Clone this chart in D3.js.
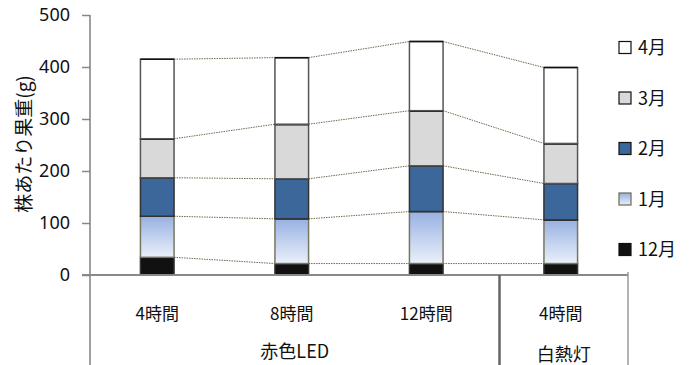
<!DOCTYPE html>
<html>
<head>
<meta charset="utf-8">
<script src="https://cdn.jsdelivr.net/npm/d3@7"></script>
<style>
  body { margin: 0; background: #fff; }
  text { font-family: "Noto Sans CJK JP", "Noto Sans", sans-serif; fill: #111; }
</style>
</head>
<body>
<svg id="chart" width="696" height="365"></svg>
<script>
// categories (lower level / upper level)
var hours = ["4時間", "8時間", "12時間", "4時間 "];
var groups = [
    { name: "赤色LED", from: 0, to: 2 },
    { name: "白熱灯", from: 3, to: 3 }
];
var months = ["12月", "1月", "2月", "3月", "4月"];
var yTicks = [0, 100, 200, 300, 400, 500];

// fruit weight per plant (g) by harvest month
var dec = [34, 22, 22, 22];
var jan = [79, 86, 100, 84];
var feb = [74, 77, 88, 70];
var mar = [75, 105, 106, 77];
var apr = [153, 128, 133, 146];

var fills = ["#111111", "url(#janGrad)", "#3c679a", "#d9d9d9", "#ffffff"];
var edges = ["#333333", "#77775f", "#333333", "#555555", "#555555"];

var rows = hours.map(function(h, i) {
    return { hour: h, "12月": dec[i], "1月": jan[i], "2月": feb[i], "3月": mar[i], "4月": apr[i] };
});

var svg = d3.select("#chart");
var margin = { left: 90, top: 15, right: 628, bottom: 275 };

var defs = svg.append("defs");
var grad = defs.append("linearGradient")
    .attr("id", "janGrad")
    .attr("x1", 0).attr("y1", 0).attr("x2", 0).attr("y2", 1);
grad.append("stop").attr("offset", "0%").attr("stop-color", "#98b1e2");
grad.append("stop").attr("offset", "100%").attr("stop-color", "#eaf0fa");

var x = d3.scaleBand()
    .domain(hours)
    .range([margin.left, margin.right])
    .paddingInner(0.75)
    .paddingOuter(0.375);

var y = d3.scaleLinear()
    .domain([0, 500])
    .range([margin.bottom, margin.top]);

var series = d3.stack().keys(months)(rows);

// dotted connectors between bars
series.forEach(function(s) {
    for (var i = 0; i < s.length - 1; i++) {
        svg.append("line")
            .attr("x1", x(hours[i]) + x.bandwidth())
            .attr("x2", x(hours[i + 1]))
            .attr("y1", y(s[i][1]))
            .attr("y2", y(s[i + 1][1]))
            .attr("stroke", "#6b6b52")
            .attr("stroke-width", 1)
            .attr("stroke-dasharray", "1.5,1");
    }
});

// stacked bars
series.forEach(function(s, k) {
    svg.append("g").selectAll("rect")
        .data(s)
        .enter().append("rect")
        .attr("x", function(d) { return x(d.data.hour); })
        .attr("width", x.bandwidth())
        .attr("y", function(d) { return y(d[1]); })
        .attr("height", function(d) { return y(d[0]) - y(d[1]); })
        .attr("fill", fills[k])
        .attr("stroke", edges[k])
        .attr("stroke-width", 1.5);
    // black line on top of each segment
    svg.append("g").selectAll("line")
        .data(s)
        .enter().append("line")
        .attr("x1", function(d) { return x(d.data.hour); })
        .attr("x2", function(d) { return x(d.data.hour) + x.bandwidth(); })
        .attr("y1", function(d) { return y(d[1]); })
        .attr("y2", function(d) { return y(d[1]); })
        .attr("stroke", "#111")
        .attr("stroke-width", k == 3 ? 2.5 : 1.5);
});

// y axis
var yAxis = svg.append("g")
    .attr("transform", "translate(" + margin.left + ",0)")
    .call(d3.axisLeft(y).tickValues(yTicks).tickSize(8).tickPadding(12));
yAxis.select(".domain").remove();
yAxis.selectAll(".tick line").attr("stroke", "#888").attr("stroke-width", 1.5);
yAxis.selectAll(".tick text")
    .style("font-size", "18px")
    .style("font-family", "'Noto Sans', sans-serif")
    .attr("fill", "#111");

svg.append("line")
    .attr("x1", margin.left).attr("x2", margin.left)
    .attr("y1", y(500)).attr("y2", 365)
    .attr("stroke", "#7f7f7f").attr("stroke-width", 1.5);

// x axis line
svg.append("line")
    .attr("x1", margin.left - 8).attr("x2", margin.right)
    .attr("y1", y(0)).attr("y2", y(0))
    .attr("stroke", "#888").attr("stroke-width", 2);

// group separator + right border
var sep = (x(hours[2]) + x.bandwidth() + x(hours[3])) / 2 + 6;
svg.append("line")
    .attr("x1", sep).attr("x2", sep)
    .attr("y1", y(0)).attr("y2", 365)
    .attr("stroke", "#666").attr("stroke-width", 2.5);
svg.append("line")
    .attr("x1", margin.right).attr("x2", margin.right)
    .attr("y1", y(0) - 3).attr("y2", 365)
    .attr("stroke", "#999").attr("stroke-width", 1.5);

// hour labels
svg.append("g").selectAll("text")
    .data(hours)
    .enter().append("text")
    .attr("x", function(d) { return x(d) + x.bandwidth() / 2; })
    .attr("y", 320)
    .attr("text-anchor", "middle")
    .style("font-size", "17px")
    .text(function(d) { return d.trim(); });

// group labels
var bounds = [margin.left, sep, margin.right];
svg.append("g").selectAll("text")
    .data(groups)
    .enter().append("text")
    .attr("x", function(d, i) { return (bounds[i] + bounds[i + 1]) / 2; })
    .attr("y", function(d, i) { return i == 0 ? 358 : 361; })
    .attr("text-anchor", "middle")
    .style("font-size", "18px")
    .text(function(d) { return d.name; });

// y title
svg.append("text")
    .attr("transform", "translate(31,144) rotate(-90)")
    .attr("text-anchor", "middle")
    .style("font-size", "19px")
    .text("株あたり果重(g)");

// legend (reverse order)
var legend = svg.append("g").selectAll("g")
    .data(months.slice().reverse())
    .enter().append("g")
    .attr("transform", function(d, i) { return "translate(619," + (41.5 + i * 50.5) + ")"; });
legend.append("rect")
    .attr("width", 12).attr("height", 12)
    .attr("fill", function(d) { return fills[months.indexOf(d)]; })
    .attr("stroke", function(d) { return d == "1月" ? "#6b6b50" : "#111"; })
    .attr("stroke-width", 1.2);
legend.append("text")
    .attr("x", 19).attr("y", 12.5)
    .style("font-size", "18px")
    .text(function(d) { return d; });
</script>
</body>
</html>
